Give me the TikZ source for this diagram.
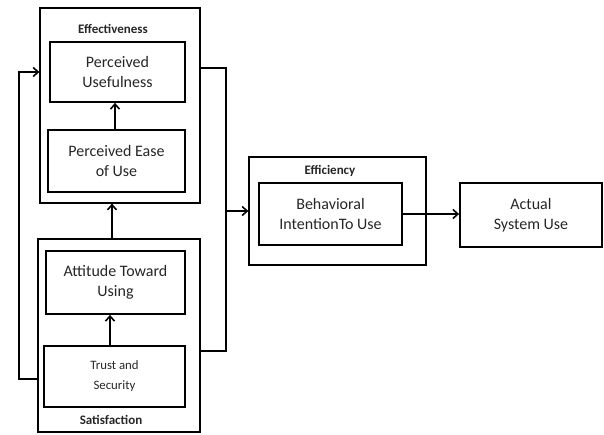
\documentclass[tikz,border=0pt]{standalone}
\usepackage{fontspec}
\setmainfont{Carlito}
\usetikzlibrary{arrows.meta}
\begin{document}
\begin{tikzpicture}[x=1pt,y=-1pt,
  outerbox/.style={draw=black,line width=1.3pt,rectangle,inner sep=0pt},
  innerbox/.style={draw=black,line width=1.8pt,rectangle,inner sep=0pt,align=center,
     font=\fontsize{16}{19.5}\selectfont,text=black!85},
  grouplabel/.style={font=\fontsize{13}{15}\selectfont\bfseries,text=black!85,inner sep=0pt},
  conn/.style={line width=1.6pt},
  arr/.style={line width=1.6pt,-{Straight Barb[length=5pt,width=9pt,line width=1.6pt]}}]
\useasboundingbox (0,0) rectangle (604,434);
% group boxes
\node[outerbox,minimum width=160pt,minimum height=195pt] (eff) at (120,105.5) {};
\node[outerbox,minimum width=162pt,minimum height=193pt] (sat) at (119,335.5) {};
\node[outerbox,minimum width=177pt,minimum height=108pt] (effy) at (337.5,211) {};
% group labels
\node[grouplabel] (efflab) at (113,29) {Effectiveness};
\node[grouplabel] (satlab) at (111,420) {Satisfaction};
\node[grouplabel] (effylab) at (330,171) {Efficiency};
% inner boxes
\node[innerbox,minimum width=135pt,minimum height=60pt] (pu) at (117.5,72) {Perceived\\Usefulness};
\node[innerbox,minimum width=137pt,minimum height=62pt] (peou) at (116.5,161) {Perceived Ease\\of Use};
\node[innerbox,minimum width=139pt,minimum height=63pt] (att) at (115.5,282.5) {Attitude Toward\\Using};
\node[innerbox,minimum width=141pt,minimum height=61pt,font=\fontsize{12.8}{20}\selectfont] (trust) at (114.5,376.5) {Trust and\\Security};
\node[innerbox,minimum width=143pt,minimum height=62pt] (beh) at (330.5,214) {Behavioral\\IntentionTo Use};
\node[innerbox,minimum width=142pt,minimum height=64pt] (act) at (531,215) {Actual\\System Use};
% coordinates
\coordinate (l1) at (19,379);
\coordinate (r1) at (226,68);
\coordinate (r2) at (226,351);
\coordinate (j) at (226,211);
% connectors
\draw[arr] ([xshift=-1.5pt]peou.north) -- ([xshift=-1.5pt]peou.north |- pu.south);
\draw[arr] ([xshift=-4.5pt]trust.north) -- ([xshift=-4.5pt]trust.north |- att.south);
\draw[arr] ([xshift=-7pt]sat.north) -- ([xshift=-7pt]sat.north |- eff.south);
\draw[arr] (sat.west |- l1) -- (l1) -- (l1 |- pu) -- (eff.west |- pu);
\draw[conn] (eff.east |- r1) -- (r1) -- (r2) -- (sat.east |- r2);
\draw[arr] (j) -- (effy.west |- j);
\draw[arr] (beh.east) -- (beh.east -| act.west);
\end{tikzpicture}
\end{document}
